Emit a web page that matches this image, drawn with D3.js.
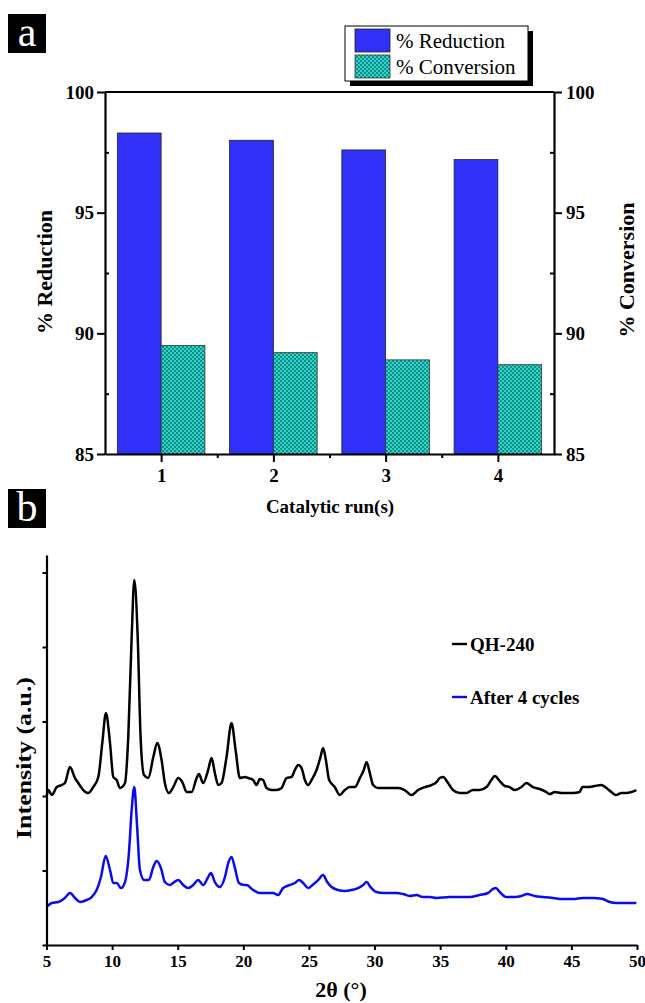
<!DOCTYPE html>
<html>
<head>
<meta charset="utf-8">
<script src="https://cdn.jsdelivr.net/npm/d3@7"></script>
<style>
  body { margin: 0; background: #fff; }
  svg { display: block; font-family: "Liberation Serif", "Times New Roman", serif; }
</style>
</head>
<body>
<svg id="fig" width="645" height="1003"></svg>
<script>
// panel a data
const runs = [1, 2, 3, 4];
const reductionPct = [98.3, 98.0, 97.6, 97.2];
const conversionPct = [89.5, 89.2, 88.9, 88.7];
const pctTicks = [85, 90, 95, 100];

// panel b data (2theta, counts)
const qhTheta = [5.0, 5.14, 5.4, 5.78, 6.15, 6.4, 6.79, 7.17, 7.42, 7.8, 8.18, 8.56, 8.95, 9.25, 9.53, 9.84, 10.09, 10.35, 10.6, 10.98,
  11.23, 11.49, 11.69, 11.95, 12.17, 12.43, 12.76, 13.14, 13.44, 13.77, 14.02, 14.33, 14.66, 15.04, 15.35, 15.68, 16.06, 16.44, 16.61, 16.94,
  17.32, 17.58, 17.83, 18.09, 18.34, 18.72, 19.1, 19.41, 19.74, 20.12, 20.37, 20.75, 21.0, 21.26, 21.51, 21.77, 22.15, 22.53, 22.91, 23.29,
  23.67, 23.93, 24.18, 24.44, 24.69, 24.94, 25.2, 25.58, 25.88, 26.08, 26.29, 26.54, 26.97, 27.35, 27.73, 28.11, 28.5, 28.88, 29.18, 29.39,
  29.64, 29.89, 30.27, 30.78, 31.29, 31.79, 32.3, 32.81, 33.32, 33.83, 34.34, 34.72, 34.97, 35.22, 35.6, 35.98, 36.49, 37.0, 37.5, 38.0,
  38.53, 38.9, 39.16, 39.54, 39.92, 40.3, 40.68, 41.19, 41.57, 42.07, 42.59, 43.1, 43.35, 43.73, 44.24, 44.74, 45.12, 45.63, 45.84, 46.26,
  46.77, 47.28, 47.67, 48.05, 48.38, 48.81, 49.19, 49.57, 49.95];
const qhCounts = [1986, 2080, 2013, 2120, 2147, 2174, 2389, 2241, 2174, 2080, 2040, 2120, 2255, 2711, 3113, 2711, 2255, 2214, 2107, 2174,
  2791, 4133, 4898, 4133, 2791, 2281, 2241, 2523, 2711, 2483, 2174, 2040, 2120, 2241, 2187, 2053, 2053, 2241, 2295, 2174,
  2349, 2510, 2308, 2147, 2174, 2523, 2979, 2617, 2241, 2255, 2241, 2214, 2147, 2228, 2214, 2107, 2080, 2080, 2107, 2241,
  2255, 2349, 2416, 2375, 2214, 2147, 2214, 2349, 2523, 2644, 2483, 2214, 2120, 2013, 2080, 2120, 2120, 2241, 2349, 2456,
  2308, 2147, 2107, 2107, 2107, 2107, 2080, 2013, 2080, 2120, 2147, 2187, 2241, 2255, 2174, 2080, 2040, 2040, 2080, 2080,
  2120, 2214, 2268, 2201, 2134, 2120, 2080, 2120, 2174, 2120, 2094, 2053, 2026, 2053, 2040, 2040, 2040, 2053, 2120, 2120,
  2134, 2147, 2107, 2053, 2013, 2040, 2040, 2053, 2080];

const cycTheta = [5.0, 5.4, 5.9, 6.4, 6.79, 7.17, 7.55, 8.06, 8.44, 8.82, 9.15, 9.51, 9.84, 10.09, 10.35, 10.68, 10.98, 11.28, 11.49, 11.69,
  11.89, 12.12, 12.45, 12.8, 13.14, 13.39, 13.72, 14.02, 14.4, 14.73, 15.04, 15.42, 15.8, 16.18, 16.56, 16.94, 17.28, 17.53, 17.83, 18.21,
  18.6, 18.85, 19.1, 19.36, 19.66, 20.06, 20.25, 20.75, 21.26, 21.77, 22.27, 22.65, 23.03, 23.54, 23.93, 24.25, 24.56, 24.94, 25.27, 25.7,
  26.08, 26.39, 26.72, 27.22, 27.73, 28.24, 28.75, 29.13, 29.39, 29.69, 30.15, 30.65, 31.16, 31.67, 32.17, 32.68, 33.2, 33.7, 34.21, 34.72,
  35.73, 36.49, 37.25, 38.0, 38.65, 39.03, 39.24, 39.54, 40.05, 40.68, 41.19, 41.62, 42.2, 42.84, 43.6, 44.36, 45.12, 45.88, 46.64, 47.4,
  47.92, 48.43, 49.19, 49.95];
const cycCounts = [510, 564, 577, 631, 698, 631, 577, 604, 644, 738, 913, 1194, 1007, 832, 832, 765, 845, 1235, 1812, 2120,
  1637, 1007, 872, 872, 1047, 1127, 1033, 845, 805, 845, 872, 805, 765, 805, 872, 805, 899, 966, 845, 778,
  913, 1100, 1181, 1033, 832, 805, 805, 738, 698, 698, 698, 671, 765, 805, 832, 872, 832, 765, 805, 872,
  939, 845, 778, 738, 725, 738, 765, 805, 845, 778, 711, 698, 698, 698, 684, 658, 671, 644, 644, 631,
  644, 644, 644, 671, 698, 752, 765, 711, 644, 644, 658, 684, 658, 644, 631, 617, 617, 631, 631, 617,
  577, 564, 564, 564];
const thetaTicks = [5, 10, 15, 20, 25, 30, 35, 40, 45, 50];
const countTicks = [0, 1000, 2000, 3000, 4000, 5000];

const svg = d3.select("#fig");
const bold = "bold";

// ---------- panel label helper
function panelTag(x, y, letter) {
  svg.append("rect").attr("x", x).attr("y", y).attr("width", 38).attr("height", 39).attr("fill", "#000");
  svg.append("text").attr("x", x + 19).attr("y", y + 32).attr("text-anchor", "middle")
    .attr("fill", "#fff").attr("font-size", 42).text(letter);
}

panelTag(8, 14, "a");
panelTag(8, 489, "b");

// ---------- panel a
const ax = { left: 105, right: 554, top: 92, bottom: 454 };
const xA = d3.scaleLinear().domain([0.5, 4.5]).range([ax.left, ax.right]);
const yA = d3.scaleLinear().domain([85, 100]).range([ax.bottom, ax.top]);
const barW = 0.39;

const defs = svg.append("defs");
const pat = defs.append("pattern").attr("id", "checker").attr("patternUnits", "userSpaceOnUse")
  .attr("width", 4).attr("height", 4);
pat.append("rect").attr("width", 4).attr("height", 4).attr("fill", "#2fd6cc");
pat.append("rect").attr("width", 2).attr("height", 2).attr("fill", "#0f8c86");
pat.append("rect").attr("x", 2).attr("y", 2).attr("width", 2).attr("height", 2).attr("fill", "#0f8c86");

const gA = svg.append("g");

gA.selectAll("rect.red").data(runs).enter().append("rect")
  .attr("class", "red")
  .attr("x", (d) => xA(d - barW))
  .attr("width", (d) => xA(d) - xA(d - barW))
  .attr("y", (d, i) => yA(reductionPct[i]))
  .attr("height", (d, i) => yA(85) - yA(reductionPct[i]))
  .attr("fill", "#3030f8").attr("stroke", "#222").attr("stroke-width", 0.8);

gA.selectAll("rect.conv").data(runs).enter().append("rect")
  .attr("class", "conv")
  .attr("x", (d) => xA(d))
  .attr("width", (d) => xA(d + barW) - xA(d))
  .attr("y", (d, i) => yA(conversionPct[i]))
  .attr("height", (d, i) => yA(85) - yA(conversionPct[i]))
  .attr("fill", "url(#checker)").attr("stroke", "#333").attr("stroke-width", 0.8);

// frame line on top
gA.append("line").attr("x1", ax.left).attr("x2", ax.right).attr("y1", ax.top).attr("y2", ax.top)
  .attr("stroke", "#000").attr("stroke-width", 2.2);

const minorPct = [87.5, 92.5, 97.5];

function styleAxis(g, size) {
  g.select(".domain").attr("stroke-width", 2.2);
  g.selectAll(".tick line").attr("stroke-width", 2);
  g.selectAll(".tick text").attr("font-size", size).attr("font-weight", bold)
    .attr("font-family", "Liberation Serif, serif").attr("fill", "#000");
}

const leftA = gA.append("g").attr("transform", `translate(${ax.left},0)`)
  .call(d3.axisLeft(yA).tickValues(pctTicks).tickSize(8).tickPadding(3).tickSizeOuter(0));
styleAxis(leftA, 19);
gA.append("g").attr("transform", `translate(${ax.left},0)`)
  .call(d3.axisRight(yA).tickValues(minorPct).tickSize(4).tickFormat("").tickSizeOuter(0))
  .call((g) => g.select(".domain").remove())
  .selectAll("line").attr("stroke-width", 2);

const rightA = gA.append("g").attr("transform", `translate(${ax.right},0)`)
  .call(d3.axisRight(yA).tickValues(pctTicks).tickSize(8).tickPadding(4).tickSizeOuter(0));
styleAxis(rightA, 19);
gA.append("g").attr("transform", `translate(${ax.right},0)`)
  .call(d3.axisLeft(yA).tickValues(minorPct).tickSize(4).tickFormat("").tickSizeOuter(0))
  .call((g) => g.select(".domain").remove())
  .selectAll("line").attr("stroke-width", 2);

const bottomA = gA.append("g").attr("transform", `translate(0,${ax.bottom})`)
  .call(d3.axisBottom(xA).tickValues(runs).tickFormat(d3.format("d")).tickSize(8).tickPadding(7).tickSizeOuter(0));
styleAxis(bottomA, 19);
gA.append("g").attr("transform", `translate(0,${ax.bottom})`)
  .call(d3.axisBottom(xA).tickValues([1.5, 2.5, 3.5]).tickSize(4).tickFormat("").tickSizeOuter(0))
  .call((g) => g.select(".domain").remove())
  .selectAll("line").attr("stroke-width", 2);

gA.append("text").attr("transform", "translate(52,272) rotate(-90)").attr("text-anchor", "middle")
  .attr("font-size", 22).attr("font-weight", bold).text("% Reduction");
gA.append("text").attr("transform", "translate(634,270) rotate(-90)").attr("text-anchor", "middle")
  .attr("font-size", 22).attr("font-weight", bold).text("% Conversion");
gA.append("text").attr("x", 330).attr("y", 513).attr("text-anchor", "middle")
  .attr("font-size", 19).attr("font-weight", bold).text("Catalytic run(s)");

// legend a
const leg = svg.append("g");
leg.append("rect").attr("x", 350).attr("y", 31).attr("width", 183).attr("height", 55).attr("fill", "#000");
leg.append("rect").attr("x", 345).attr("y", 26).attr("width", 183).attr("height", 55)
  .attr("fill", "#fff").attr("stroke", "#000").attr("stroke-width", 1);
leg.append("rect").attr("x", 355).attr("y", 29).attr("width", 35).attr("height", 23)
  .attr("fill", "#3030f8").attr("stroke", "#222").attr("stroke-width", 0.8);
leg.append("rect").attr("x", 355).attr("y", 55).attr("width", 35).attr("height", 23)
  .attr("fill", "url(#checker)").attr("stroke", "#333").attr("stroke-width", 0.8);
leg.append("text").attr("x", 396).attr("y", 48).attr("font-size", 21).text("% Reduction");
leg.append("text").attr("x", 396).attr("y", 74).attr("font-size", 21).text("% Conversion");

// ---------- panel b
const bx = { left: 46.5, right: 637, top: 555, bottom: 945 };
const xB = d3.scaleLinear().domain([5, 50]).range([bx.left, bx.right]);
const yB = d3.scaleLinear().domain([0, 5235]).range([bx.bottom, bx.top]);
const gB = svg.append("g");

const lineB = d3.line().x((d) => xB(d[0])).y((d) => yB(d[1])).curve(d3.curveMonotoneX);

gB.append("path").datum(qhTheta.map((t, i) => [t, qhCounts[i]]))
  .attr("d", lineB).attr("fill", "none").attr("stroke", "#000").attr("stroke-width", 2.5)
  .attr("stroke-linejoin", "round");
gB.append("path").datum(cycTheta.map((t, i) => [t, cycCounts[i]]))
  .attr("d", lineB).attr("fill", "none").attr("stroke", "#0a0af0").attr("stroke-width", 2.5)
  .attr("stroke-linejoin", "round");

const bottomB = gB.append("g").attr("transform", `translate(0,${bx.bottom})`)
  .call(d3.axisBottom(xB).tickValues(thetaTicks).tickSize(5).tickPadding(5).tickSizeOuter(0));
styleAxis(bottomB, 17);

const leftB = gB.append("g").attr("transform", `translate(${bx.left},0)`)
  .call(d3.axisLeft(yB).tickValues(countTicks).tickSize(4).tickFormat("").tickSizeOuter(0));
styleAxis(leftB, 17);

gB.append("text").attr("x", 341).attr("y", 997).attr("text-anchor", "middle")
  .attr("font-size", 22).attr("font-weight", bold).text("2θ (°)");
gB.append("text").attr("transform", "translate(31,758) rotate(-90)").attr("text-anchor", "middle")
  .attr("font-size", 22).attr("font-weight", bold).attr("textLength", 162).attr("lengthAdjust", "spacingAndGlyphs")
  .text("Intensity (a.u.)");

// legend b
const legB = [
  { name: "QH-240", color: "#000", y: 644 },
  { name: "After 4 cycles", color: "#0a0af0", y: 697 }
];
legB.forEach((d) => {
  gB.append("line").attr("x1", 452).attr("x2", 467).attr("y1", d.y).attr("y2", d.y)
    .attr("stroke", d.color).attr("stroke-width", 2.4);
  gB.append("text").attr("x", 470).attr("y", d.y + 7).attr("font-size", 19).attr("font-weight", bold).text(d.name);
});
</script>
</body>
</html>
